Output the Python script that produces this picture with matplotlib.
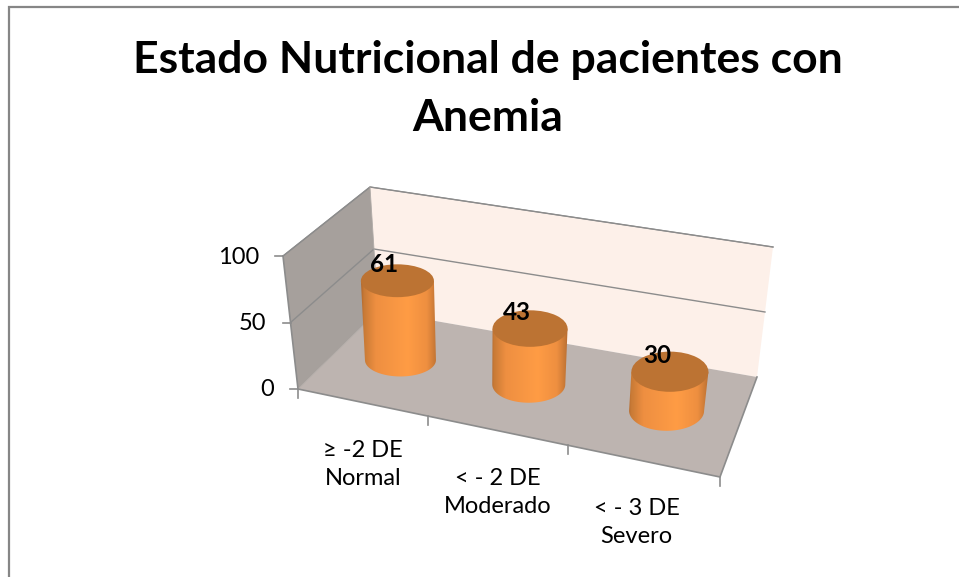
import numpy as np
import matplotlib
matplotlib.use("Agg")
import matplotlib.pyplot as plt
from matplotlib.colors import LinearSegmentedColormap
from matplotlib.patches import Ellipse, Polygon

plt.rcParams['font.family'] = ['Lato', 'DejaVu Sans']

title = "Estado Nutricional de pacientes con\nAnemia"
categories = ["≥ -2 DE\nNormal", "< - 2 DE\nModerado", "< - 3 DE\nSevero"]
values = [61, 43, 30]
value_ticks = [0, 50, 100]

# corners of the 3d box on screen, px
floor_front_left = (298, 389)
floor_front_right = (720, 477)
floor_back_left = (378, 311)
floor_back_right = (757, 377)
wall_top_left = (370, 187)
wall_top_right = (773, 247)
side_top_front = (283, 256)

line_col = "#8c8c8c"

# homography from unit square to the floor
src = [(0, 0), (1, 0), (0, 1), (1, 1)]
dst = [floor_front_left, floor_front_right, floor_back_left, floor_back_right]
A = []
b = []
for (u, v), (px, py) in zip(src, dst):
    A.append([u, v, 1, 0, 0, 0, -u * px, -v * px])
    A.append([0, 0, 0, u, v, 1, -u * py, -v * py])
    b += [px, py]
h = np.append(np.linalg.solve(np.array(A, float), np.array(b, float)), 1).reshape(3, 3)


def floor_xy(u, v):
    u = u + 0.03 * u * (1 - u)   # perspective came out slightly short
    p = h @ np.array([u, v, 1])
    return p[0] / p[2], p[1] / p[2]


def lift(x, y, u, val):
    # walls lean outwards a little, so height also moves x
    return x + (-0.09 + 0.24 * u) * val, y - 1.3 * val


fig = plt.figure(figsize=(9.59, 5.77), dpi=100)
ax = fig.add_axes([0, 0, 1, 1])
ax.set_xlim(0, 959)
ax.set_ylim(577, 0)
ax.axis("off")

# chart border
ax.plot([9, 9, 959], [577, 7, 7], color="#868686", lw=1.6, solid_joinstyle="miter")

# walls and floor
ax.add_patch(Polygon([wall_top_left, wall_top_right, floor_back_right, floor_back_left],
                     fc="#fdf0e9", ec="none"))
ax.add_patch(Polygon([side_top_front, wall_top_left, floor_back_left, floor_front_left],
                     fc="#a6a09c", ec="none"))
ax.add_patch(Polygon([floor_front_left, floor_front_right, floor_back_right, floor_back_left],
                     fc="#bdb4b0", ec="none"))

# grid lines
for t in value_ticks[1:]:
    f = t / 100
    front = (floor_front_left[0] + (side_top_front[0] - floor_front_left[0]) * f,
             floor_front_left[1] + (side_top_front[1] - floor_front_left[1]) * f)
    back_l = (floor_back_left[0] + (wall_top_left[0] - floor_back_left[0]) * f,
              floor_back_left[1] + (wall_top_left[1] - floor_back_left[1]) * f)
    back_r = (floor_back_right[0] + (wall_top_right[0] - floor_back_right[0]) * f,
              floor_back_right[1] + (wall_top_right[1] - floor_back_right[1]) * f)
    ax.plot([front[0], back_l[0], back_r[0]], [front[1], back_l[1], back_r[1]],
            color=line_col, lw=1)

# box edges
ax.plot([side_top_front[0], floor_front_left[0], floor_front_right[0], floor_back_right[0]],
        [side_top_front[1], floor_front_left[1], floor_front_right[1], floor_back_right[1]],
        color=line_col, lw=1.2)
ax.plot([side_top_front[0], wall_top_left[0], wall_top_right[0]],
        [side_top_front[1], wall_top_left[1], wall_top_right[1]],
        color=line_col, lw=0.8)
ax.plot([wall_top_left[0], floor_back_left[0]], [wall_top_left[1], floor_back_left[1]],
        color="#b0aaa6", lw=0.6)
ax.plot([floor_front_left[0], floor_back_left[0]], [floor_front_left[1], floor_back_left[1]],
        color="#b0aaa6", lw=0.6)

# value axis ticks and labels
for t in value_ticks:
    f = t / 100
    x = floor_front_left[0] + (side_top_front[0] - floor_front_left[0]) * f
    y = floor_front_left[1] + (side_top_front[1] - floor_front_left[1]) * f
    ax.plot([x - 8, x], [y, y], color=line_col, lw=1.2)
    ax.text(x - 24, y + 1, str(t), ha="right", va="center", fontsize=17, color="black")

# category ticks
n = len(categories)
for i in range(n + 1):
    x, y = floor_xy(i / n, 0)
    ax.plot([x, x], [y, y + 9], color=line_col, lw=1.2)

cmap = LinearSegmentedColormap.from_list("cyl", [
    (0.0, "#a9622a"), (0.05, "#c87a36"), (0.2, "#ee8f41"), (0.6, "#ff9c45"),
    (0.85, "#ee8f40"), (0.96, "#c47635"), (1.0, "#a9622a")])
grad = np.linspace(0, 1, 256).reshape(1, -1)

for i, (cat, val) in enumerate(zip(categories, values)):
    u = (i + 0.5) / n
    bx, by = floor_xy(u, 0.49)
    tx, ty = lift(bx, by, u, val)
    rx = 35 + 3 * u
    ry = 15.5 + 5.5 * u

    # side of the cylinder, clipped gradient
    t = np.linspace(0, np.pi, 60)
    low_x = bx - rx * np.cos(t)
    low_y = by + ry * np.sin(t)
    body = Polygon(np.column_stack([np.r_[tx - rx - 1, low_x, tx + rx + 1],
                                    np.r_[ty, low_y, ty]]),
                   fc="none", ec="none")
    ax.add_patch(body)
    im = ax.imshow(grad, cmap=cmap, aspect="auto", zorder=2,
                   extent=[min(tx, bx) - rx - 2, max(tx, bx) + rx + 2, by + ry + 2, ty - 2])
    im.set_clip_path(body)

    # top of the cylinder
    ax.add_patch(Ellipse((tx, ty), 2 * (rx + 1), 2 * ry, fc="#bc7333", ec="none", zorder=3))

    # data label
    ax.text(tx - 13, ty - 16, str(val), ha="center", va="center", fontsize=17.5,
            fontweight="bold", color="black", zorder=5)

    # category label, last one sits a bit further left
    fx, fy = floor_xy(u, 0)
    if i == n - 1:
        fx -= 7
    ax.text(fx + 1, fy + 62, cat, ha="center", va="center", fontsize=17,
            color="black", linespacing=1.42)

ax.set_xlim(0, 959)
ax.set_ylim(577, 0)

ax.text(488, 89, title, ha="center", va="center", fontsize=32, fontweight="bold",
        color="black", linespacing=1.55)

fig.savefig("out.png", dpi=100)
